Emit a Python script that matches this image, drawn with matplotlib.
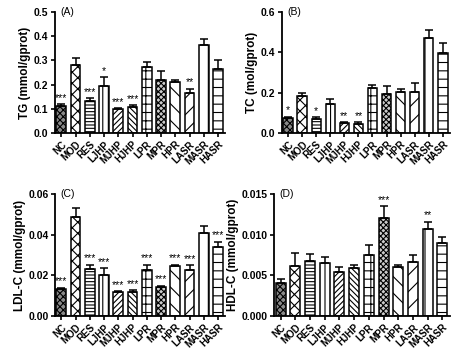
import matplotlib
matplotlib.use("Agg")
import matplotlib.pyplot as plt
import numpy as np

plt.rcParams['font.family'] = ['Liberation Sans', 'DejaVu Sans']
plt.rcParams['hatch.linewidth'] = 0.8

groups = ["NC", "MOD", "RES", "LJHP", "MJHP", "HJHP", "LPR", "MPR", "HPR", "LASR", "MASR", "HASR"]

tg_mean = [0.113, 0.280, 0.132, 0.195, 0.100, 0.108, 0.272, 0.220, 0.210, 0.165, 0.365, 0.265]
tg_err = [0.005, 0.030, 0.012, 0.037, 0.004, 0.008, 0.022, 0.035, 0.008, 0.018, 0.022, 0.038]
tg_sig = ["***", "", "***", "*", "***", "***", "", "", "", "**", "", ""]

tc_mean = [0.075, 0.185, 0.072, 0.145, 0.050, 0.047, 0.222, 0.193, 0.205, 0.202, 0.472, 0.397]
tc_err = [0.006, 0.015, 0.008, 0.025, 0.005, 0.007, 0.018, 0.040, 0.012, 0.045, 0.038, 0.050]
tc_sig = ["*", "", "*", "", "**", "**", "", "", "", "", "", ""]

ldl_mean = [0.0132, 0.0488, 0.0232, 0.0202, 0.0118, 0.0120, 0.0225, 0.0145, 0.0245, 0.0225, 0.0410, 0.0338]
ldl_err = [0.0007, 0.0045, 0.0020, 0.0035, 0.0004, 0.0008, 0.0028, 0.0005, 0.0007, 0.0025, 0.0035, 0.0028]
ldl_sig = ["***", "", "***", "***", "***", "***", "***", "***", "***", "***", "", "***"]

hdl_mean = [0.0041, 0.0061, 0.0068, 0.0065, 0.0054, 0.0059, 0.0075, 0.0120, 0.0060, 0.0067, 0.0107, 0.0090]
hdl_err = [0.0004, 0.0016, 0.0008, 0.0008, 0.0006, 0.0004, 0.0012, 0.0015, 0.0003, 0.0008, 0.0009, 0.0007]
hdl_sig = ["", "", "", "", "", "", "", "***", "", "", "**", ""]

hatches = ["xxxxx", "xxx", "-----", "|||", "//////", "\\\\\\\\\\\\", "++", "xxxxxx", "\\\\", "//", "|", "--"]
faces = ["#8a8a8a", "white", "white", "white", "white", "white", "white", "#cccccc", "white", "white", "white", "white"]

fig = plt.figure(figsize=(4.69, 3.52), dpi=100)

panels = [
    ([0.117, 0.622, 0.363, 0.344], tg_mean, tg_err, tg_sig, "TG (mmol/gprot)", (0, 0.5), [0.0, 0.1, 0.2, 0.3, 0.4, 0.5], "{:.1f}", "(A)"),
    ([0.601, 0.622, 0.358, 0.344], tc_mean, tc_err, tc_sig, "TC (mol/gprot)", (0, 0.6), [0.0, 0.2, 0.4, 0.6], "{:.1f}", "(B)"),
    ([0.117, 0.102, 0.363, 0.347], ldl_mean, ldl_err, ldl_sig, "LDL-C (mmol/gprot)", (0, 0.06), [0.00, 0.02, 0.04, 0.06], "{:.2f}", "(C)"),
    ([0.584, 0.102, 0.375, 0.347], hdl_mean, hdl_err, hdl_sig, "HDL-C (mmol/gprot)", (0, 0.015), [0.000, 0.005, 0.010, 0.015], "{:.3f}", "(D)"),
]

x = np.arange(len(groups))
for rect, mean, err, sig, ylab, ylim, yt, fmt, lab in panels:
    ax = fig.add_axes(rect)
    ax.bar(x, mean, width=0.68, color=faces, edgecolor="black", linewidth=1.1, hatch=hatches, zorder=2)
    ax.errorbar(x, mean, yerr=[np.zeros(len(x)), err], fmt="none", ecolor="black",
                elinewidth=1.1, capsize=3, capthick=1.1, zorder=3)
    span = ylim[1] - ylim[0]
    for xi, m, e, s in zip(x, mean, err, sig):
        if s:
            ax.text(xi, m + e + span * 0.01, s, ha="center", va="bottom", fontsize=7.5)
    ax.set_xlim(-0.45, 11.5)
    ax.set_ylim(*ylim)
    ax.set_yticks(yt)
    ax.set_yticklabels([fmt.format(v) for v in yt], fontweight="bold", fontsize=7.5)
    ax.set_xticks(x)
    ax.set_xticklabels(groups, rotation=45, ha="right", rotation_mode="anchor",
                       fontweight="bold", fontsize=7)
    ax.set_ylabel(ylab, fontweight="bold", fontsize=8.5, labelpad=2)
    for sp in ["top", "right"]:
        ax.spines[sp].set_visible(False)
    for sp in ["left", "bottom"]:
        ax.spines[sp].set_linewidth(1.3)
    ax.tick_params(width=1.2, length=3, pad=1.5)
    ax.text(0.03, 1.0, lab, transform=ax.transAxes, ha="left", va="center", fontsize=7.5)

fig.savefig("out.png", dpi=100)
